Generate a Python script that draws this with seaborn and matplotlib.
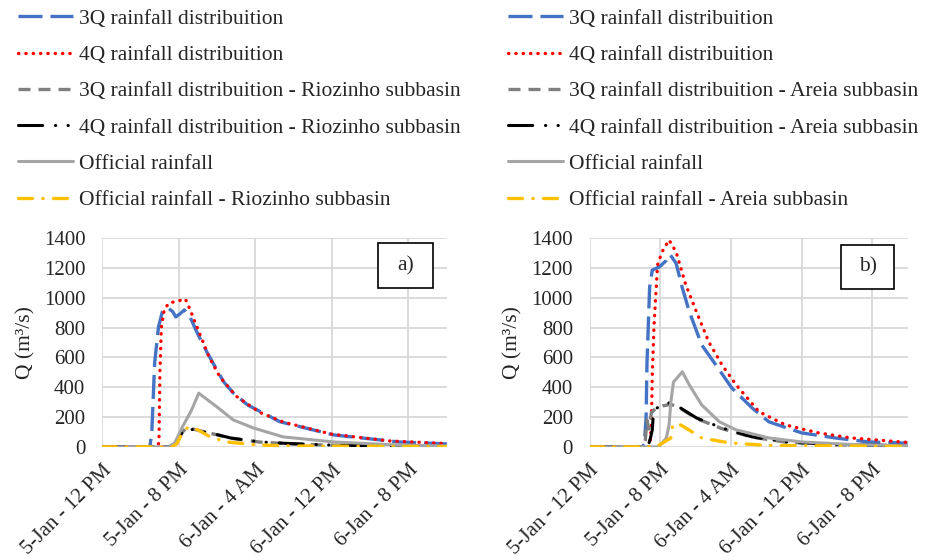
import pandas as pd
import seaborn as sns
import matplotlib.pyplot as plt
from matplotlib.patches import Rectangle

# hours after 5-Jan 12 PM, discharge in m3/s read off the reference
# ---- panel a (Riozinho) ----
t_a_3q = [0, 5.0, 5.2, 5.5, 5.9, 6.3, 6.9, 7.4, 7.7, 8.2, 8.6, 9.2, 9.9, 11.0, 12.7, 13.7, 15.2, 18.6, 24.2, 31.0, 36.0]
q_a_3q = [0, 0, 94, 563, 804, 905, 931, 905, 871, 895, 918, 870, 770, 630, 436, 362, 281, 168, 80, 33, 20]
t_a_4q = [0, 5.8, 5.95, 6.05, 6.2, 6.5, 7.0, 7.8, 8.7, 9.2, 10.0, 11.2, 12.3, 14.0, 16.5, 19.0, 24.0, 30.0, 36.0]
q_a_4q = [0, 0, 30, 500, 800, 920, 965, 975, 992, 920, 790, 600, 470, 340, 230, 165, 85, 40, 22]
t_a_3q_sub = [0, 7.2, 7.8, 8.4, 8.9, 9.6, 11.3, 13.4, 16.5, 19.7, 24.0, 30.0, 36.0]
q_a_3q_sub = [0, 0, 30, 100, 132, 118, 92, 58, 32, 20, 11, 5, 3]
t_a_4q_sub = [0, 7.0, 7.8, 8.3, 8.8, 9.5, 11.3, 13.4, 16.5, 19.7, 24.0, 30.0, 36.0]
q_a_4q_sub = [0, 0, 27, 90, 127, 115, 94, 60, 33, 22, 12, 6, 3]
t_a_off = [0, 7.0, 7.6, 8.4, 9.2, 9.5, 10.1, 12.0, 13.7, 15.8, 18.9, 24.2, 30.0, 36.0]
q_a_off = [0, 0, 27, 134, 228, 268, 360, 268, 181, 127, 67, 33, 15, 5]
t_a_off_sub = [0, 7.3, 7.8, 8.4, 9.0, 10.0, 11.3, 13.0, 16.2, 20.0, 36.0]
q_a_off_sub = [0, 0, 20, 94, 134, 114, 67, 33, 13, 6, 2]

# ---- panel b (Areia) ----
t_b_3q = [0, 6.0, 6.2, 6.4, 6.5, 6.7, 6.8, 7.1, 7.9, 8.7, 9.1, 9.8, 10.5, 11.3, 12.7, 14.3, 16.1, 18.4, 20.3, 24.0, 27.8, 31.6, 36.0]
q_b_3q = [0, 0, 20, 200, 560, 900, 1070, 1185, 1206, 1250, 1290, 1230, 1065, 905, 683, 549, 395, 261, 168, 94, 60, 33, 25]
t_b_4q = [0, 6.7, 6.85, 7.0, 7.1, 7.3, 7.7, 8.2, 9.0, 9.8, 10.9, 12.1, 13.5, 15.0, 16.6, 19.2, 22.2, 25.9, 29.6, 36.0]
q_b_4q = [0, 0, 30, 147, 482, 817, 1220, 1306, 1387, 1306, 1085, 905, 703, 549, 415, 235, 147, 94, 60, 30]
t_b_3q_sub = [0, 6.1, 6.3, 6.5, 6.7, 7.0, 7.5, 8.3, 9.2, 10.1, 12.1, 15.0, 18.4, 22.2, 28.0, 36.0]
q_b_3q_sub = [0, 0, 40, 180, 120, 230, 258, 275, 285, 265, 190, 122, 65, 32, 14, 7]
t_b_4q_sub = [0, 6.6, 6.9, 7.1, 7.2, 7.4, 8.0, 9.0, 10.1, 12.1, 15.0, 18.4, 22.2, 28.0, 36.0]
q_b_4q_sub = [0, 0, 60, 114, 200, 255, 270, 295, 268, 194, 127, 67, 33, 15, 8]
t_b_off = [0, 7.5, 7.9, 8.7, 9.0, 9.2, 9.5, 9.9, 10.5, 11.3, 12.7, 14.7, 16.6, 20.3, 24.0, 30.0, 36.0]
q_b_off = [0, 0, 5, 60, 147, 300, 435, 462, 503, 415, 281, 168, 114, 60, 33, 15, 7]
t_b_off_sub = [0, 7.5, 8.3, 9.2, 9.4, 9.9, 10.9, 12.7, 15.8, 20.0, 36.0]
q_b_off_sub = [0, 0, 27, 60, 140, 160, 127, 60, 27, 10, 3]

tick_hours = [0, 8, 16, 24, 32]
tick_labels = ['5-Jan - 12 PM', '5-Jan - 8 PM', '6-Jan - 4 AM', '6-Jan - 12 PM', '6-Jan - 8 PM']

sns.set_style('white')
plt.rcParams['font.family'] = ['Liberation Serif', 'DejaVu Serif']

# style per series: colour, dash pattern, width
styles = {
    '3q': dict(color='#4472C4', linestyle=(0, (7.2, 2.4)), lw=2.4),
    '4q': dict(color='#FF0000', linestyle=(0, (0.1, 2.1)), lw=2.4, dash_capstyle='round'),
    '3q_sub': dict(color='#7F7F7F', linestyle=(0, (3.6, 2.4)), lw=2.4),
    '4q_sub': dict(color='#000000', linestyle=(0, (7.9, 4.2, 0.1, 4.0, 0.1, 4.2)), lw=2.2,
                   dash_capstyle='round'),
    'off': dict(color='#A5A5A5', linestyle='-', lw=2.2),
    'off_sub': dict(color='#FFC000', linestyle=(0, (4.2, 3.1, 0.1, 3.1)), lw=2.4, dash_capstyle='round'),
}


def draw_panel(ax, series, sub, tag, box):
    names = {
        '3q': '3Q rainfall distribuition',
        '4q': '4Q rainfall distribuition',
        '3q_sub': f'3Q rainfall distribuition - {sub} subbasin',
        '4q_sub': f'4Q rainfall distribuition - {sub} subbasin',
        'off': 'Official rainfall',
        'off_sub': f'Official rainfall - {sub} subbasin',
    }
    for key in ['3q', '4q', '3q_sub', '4q_sub', 'off', 'off_sub']:
        t, q = series[key]
        df = pd.DataFrame({'t': t, 'q': q})
        sns.lineplot(data=df, x='t', y='q', ax=ax, label=names[key], **styles[key])
    handles, labels = ax.get_legend_handles_labels()
    ax.get_legend().remove()

    ax.set_xlim(0, 36)
    ax.set_ylim(0, 1400)
    ax.set_yticks(range(0, 1401, 200))
    ax.set_xticks(tick_hours)
    ax.set_xticklabels(tick_labels, rotation=45, ha='right', rotation_mode='anchor')
    ax.tick_params(axis='both', length=0, labelsize=15)
    ax.tick_params(axis='y', pad=12)
    ax.tick_params(axis='x', pad=10)
    ax.grid(True, color='#D9D9D9', lw=1.3)
    for s in ax.spines.values():
        s.set_visible(False)
    ax.set_xlabel('')
    ax.set_ylabel('Q (m³/s)', fontsize=15.5, labelpad=6)

    # label box, Excel text box style
    x0, y0, w, h = box
    ax.add_patch(Rectangle((x0, y0), w, h, transform=ax.transAxes, fc='white', ec='black',
                           lw=1.2, zorder=5))
    ax.text(x0 + w / 2, y0 + h / 2, tag, transform=ax.transAxes, ha='center', va='center',
            fontsize=15.5, zorder=6)
    return handles, labels


fig = plt.figure(figsize=(9.27, 5.6), dpi=100)
ax_a = fig.add_axes([0.110, 0.202, 0.372, 0.373])
ax_b = fig.add_axes([0.636, 0.202, 0.343, 0.373])

series_a = {'3q': (t_a_3q, q_a_3q), '4q': (t_a_4q, q_a_4q), '3q_sub': (t_a_3q_sub, q_a_3q_sub),
            '4q_sub': (t_a_4q_sub, q_a_4q_sub), 'off': (t_a_off, q_a_off), 'off_sub': (t_a_off_sub, q_a_off_sub)}
series_b = {'3q': (t_b_3q, q_b_3q), '4q': (t_b_4q, q_b_4q), '3q_sub': (t_b_3q_sub, q_b_3q_sub),
            '4q_sub': (t_b_4q_sub, q_b_4q_sub), 'off': (t_b_off, q_b_off), 'off_sub': (t_b_off_sub, q_b_off_sub)}

h_a, l_a = draw_panel(ax_a, series_a, 'Riozinho', 'a)', (0.800, 0.761, 0.159, 0.215))
h_b, l_b = draw_panel(ax_b, series_b, 'Areia', 'b)', (0.792, 0.756, 0.167, 0.211))

legend_kw = dict(loc='upper left', frameon=False, fontsize=15.5, handlelength=2.56,
                 handletextpad=0.28, labelspacing=0.75, borderpad=0, borderaxespad=0)
fig.legend(h_a, l_a, bbox_to_anchor=(0.019, 0.984), **legend_kw)
fig.legend(h_b, l_b, bbox_to_anchor=(0.548, 0.984), **legend_kw)

fig.savefig('out.png', dpi=100)
